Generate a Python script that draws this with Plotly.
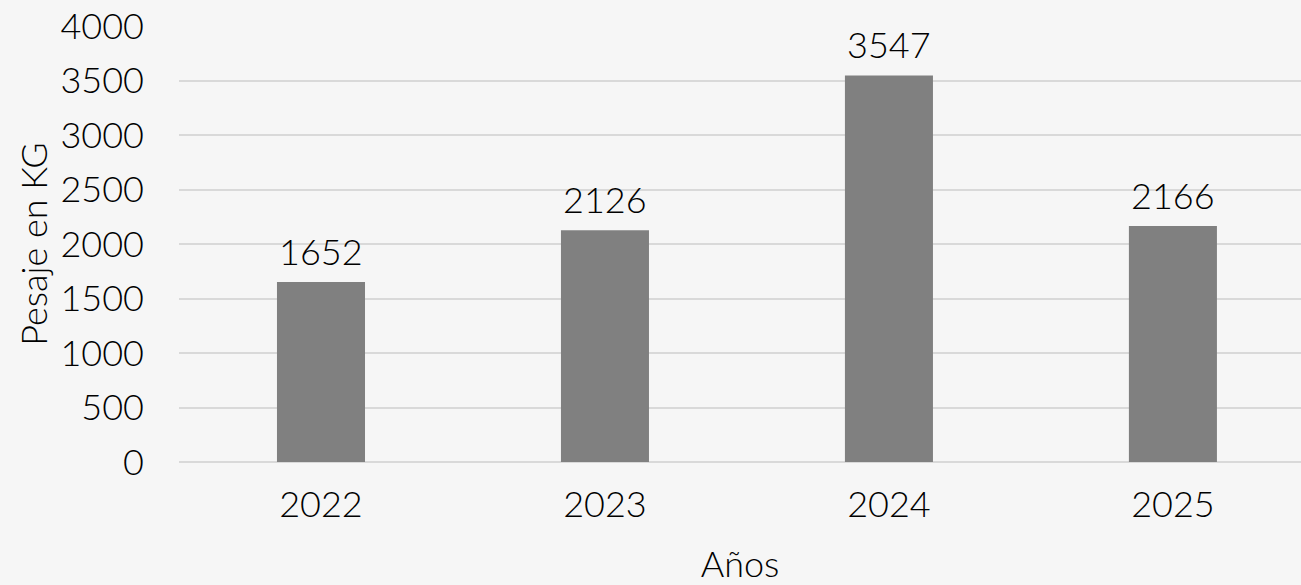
import plotly.graph_objects as go

years = ["2022", "2023", "2024", "2025"]
pesaje = [1652, 2126, 3547, 2166]
y_ticks = [0, 500, 1000, 1500, 2000, 2500, 3000, 3500, 4000]

font_family = "Lato, 'Noto Sans', sans-serif"

fig = go.Figure(
    go.Bar(
        x=years,
        y=pesaje,
        width=0.31,
        marker=dict(color="#808080", line=dict(width=0)),
        hoverinfo="x+y",
    )
)

for i, v in enumerate(pesaje):
    fig.add_annotation(
        x=i, y=v, xref="x", yref="y", text=str(v), showarrow=False,
        yanchor="middle", yshift=31,
        font=dict(size=36, color="#000000", family=font_family, weight=300),
    )

fig.update_layout(
    width=1301,
    height=585,
    margin=dict(l=179, r=0, t=26, b=123),
    paper_bgcolor="#f6f6f6",
    plot_bgcolor="rgba(0,0,0,0)",
    font=dict(family=font_family, size=36, color="#000000", weight=300),
    showlegend=False,
)

fig.update_xaxes(
    type="category",
    range=[-0.5, 3.451],
    showgrid=False,
    showline=False,
    ticks="",
    ticklabelstandoff=18,
    tickfont=dict(size=36, weight=300),
    title=dict(text="Años", font=dict(size=36, weight=300), standoff=34),
)

fig.update_yaxes(
    range=[0, 4000],
    tickvals=y_ticks,
    ticktext=[str(v) for v in y_ticks],
    showgrid=True,
    gridcolor="#d9d9d9",
    gridwidth=2,
    zeroline=True,
    zerolinecolor="#d9d9d9",
    zerolinewidth=2,
    showline=False,
    ticks="",
    ticklabelstandoff=34,
    tickfont=dict(size=36, weight=300),
    title=dict(text="Pesaje en KG", font=dict(size=36, weight=300), standoff=1),
)

fig.write_html(
    "out.html",
    config={"displayModeBar": False},
    post_script="document.body.style.margin='0';",
)
